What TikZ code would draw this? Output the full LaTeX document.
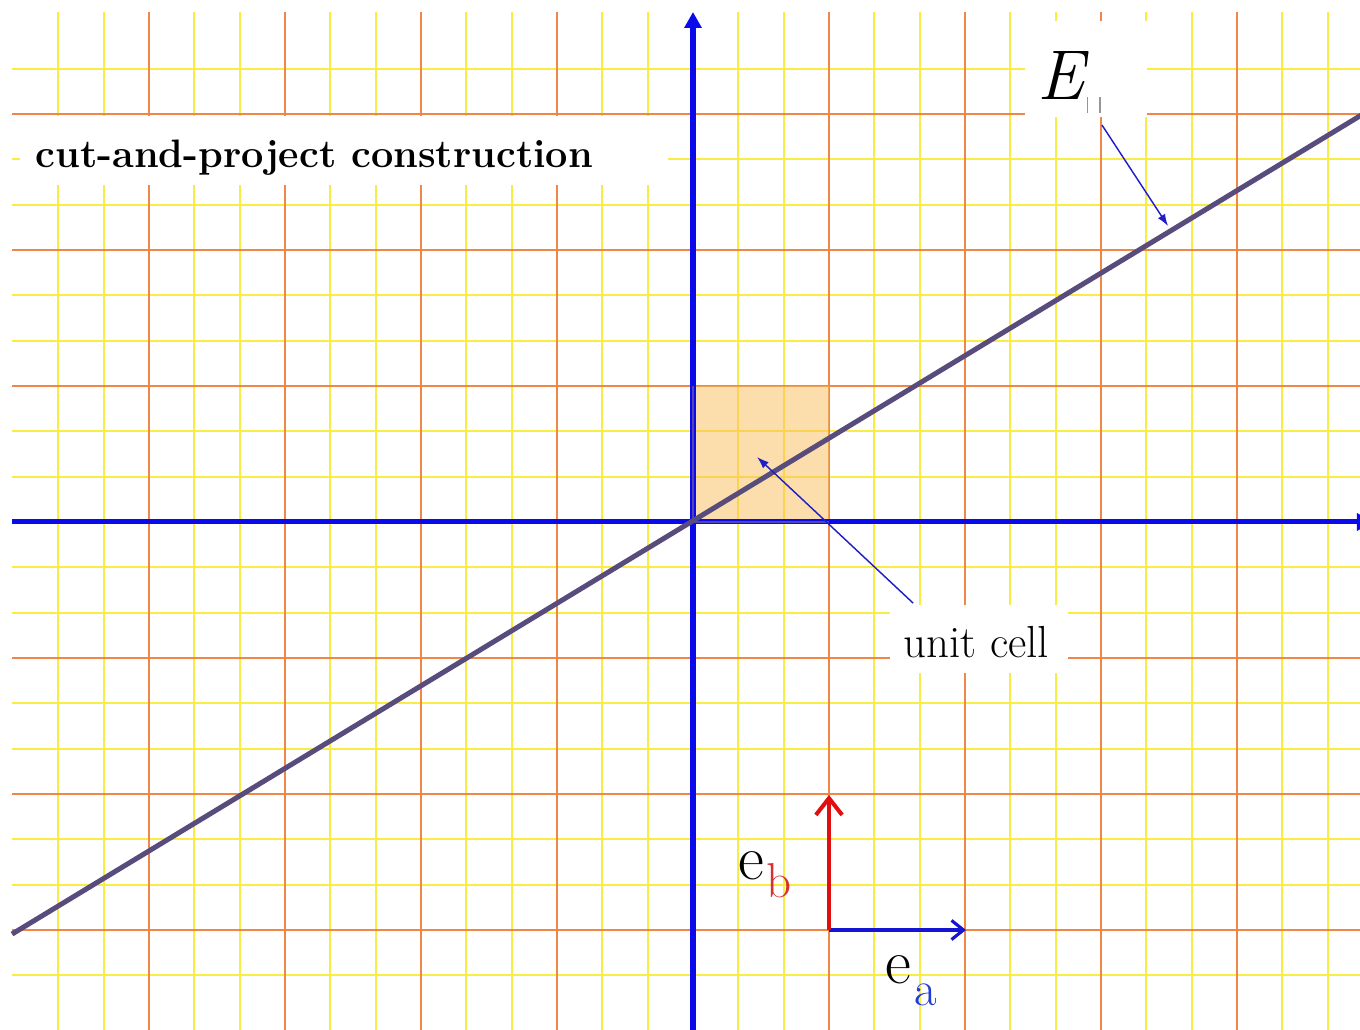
\documentclass[tikz,border=0pt]{standalone}
\usetikzlibrary{arrows.meta}
\definecolor{gridyellow}{RGB}{250,236,70}
\definecolor{gridorange}{RGB}{240,135,70}
\definecolor{axisblue}{RGB}{10,10,235}
\definecolor{lineviolet}{RGB}{88,76,124}
\definecolor{cellfill}{RGB}{250,190,90}
\definecolor{celledge}{RGB}{130,105,150}
\definecolor{pointerblue}{RGB}{30,30,200}
\definecolor{vecred}{RGB}{225,15,15}
\definecolor{vecblue}{RGB}{20,20,210}
\definecolor{subred}{RGB}{215,50,50}
\definecolor{subblue}{RGB}{30,60,210}
\definecolor{subgray}{RGB}{150,150,150}
\begin{document}
\begin{tikzpicture}[x=2cm,y=2cm,
  yline/.style={gridyellow, line width=0.8pt},
  oline/.style={gridorange, line width=0.9pt},
  axisline/.style={axisblue, line width=2.1pt, -{Triangle[length=6.7pt,width=7pt]}},
  eline/.style={lineviolet, line width=2.1pt},
  pointer/.style={pointerblue, line width=0.6pt, -{Latex[length=5pt,width=3.5pt]}},
  labelbg/.style={fill=white},
  txt/.style={anchor=base west, inner sep=0pt, text=black},
  redvec/.style={vecred, line width=1.7pt, -{Straight Barb[length=7pt,width=11pt]}},
  bluevec/.style={vecblue, line width=1.3pt, -{Straight Barb[length=5pt,width=8pt]}}
]
\useasboundingbox (-5.0956,-3.7353) rectangle (4.9044,3.8382);
\clip (-5.0956,-3.7353) rectangle (4.9044,3.8382);
\fill[white] (-5.0956,-3.7353) rectangle (4.9044,3.8382);

% yellow grid
\foreach \k in {-14,-13,-11,-10,-8,-7,-5,-4,-2,-1,1,2,4,5,7,8,10,11,13,14}
  \draw[yline] (\k/3,-3.74) -- (\k/3,3.75);
\foreach \k in {-10,-8,-7,-5,-4,-2,-1,1,2,4,5,7,8,10}
  \draw[yline] (-5.007,\k/3) -- (4.95,\k/3);
% orange grid
\foreach \k in {-4,-3,-2,-1,1,2,3,4}
  \draw[oline] (\k,-3.74) -- (\k,3.75);
\foreach \k in {-3,-2,-1,1,2,3}
  \draw[oline] (-5.007,\k) -- (4.95,\k);

% unit cell
\fill[cellfill, fill opacity=0.5] (0,0) rectangle (1,1);

% axes
\coordinate (xL) at (-5.007,0);
\coordinate (xR) at (5.0,0);
\coordinate (yB) at (0,-3.74);
\coordinate (yT) at (0,3.75);
\draw[axisline] (xL) -- (xR);
\draw[axisline] (yB) -- (yT);

% unit cell edge
\draw[celledge, draw opacity=0.6, line width=1.2pt] (0,1) -- (0,0) -- (1,0);

% E parallel line
\coordinate (eL) at (-5.007,-3.03);
\coordinate (eR) at (5.0,3.044);
\draw[eline] (eL) -- (eR);

% white label backgrounds
\fill[labelbg] (-4.949,2.478) rectangle (-0.184,2.985);
\fill[labelbg] (2.441,2.978) rectangle (3.338,3.684);
\fill[labelbg] (1.449,-1.110) rectangle (2.757,-0.610);

% texts
\node[txt] (title) at (-4.838,2.610) {\fontsize{16.6}{18}\selectfont\bfseries cut-and-project construction};
\node[txt] (elabel) at (2.53,3.103) {\fontsize{29.5}{29}\selectfont\itshape E\upshape\kern1pt\raisebox{-5.4pt}{\color{subgray}\rule{0.5pt}{6.7pt}\kern4.8pt\rule{0.5pt}{6.7pt}}};
\node[txt] (uc) at (1.544,-0.993) {\fontsize{18.8}{18}\selectfont unit cell};
\node[txt] (eb) at (0.331,-2.632) {\fontsize{26.5}{26}\selectfont e\kern1pt\raisebox{-7.5pt}{\fontsize{20.5}{20}\selectfont\color{subred}b}};
\node[txt] (ea) at (1.412,-3.39) {\fontsize{26.5}{26}\selectfont e\kern1.5pt\raisebox{-9.2pt}{\fontsize{20.5}{20}\selectfont\color{subblue}a}};

% pointers
\coordinate (eStart) at (3.007,2.919);
\coordinate (eTip) at (3.493,2.176);
\draw[pointer] (eStart) -- (eTip);
\coordinate (ucStart) at (1.618,-0.596);
\coordinate (ucTip) at (0.471,0.478);
\draw[pointer] (ucStart) -- (ucTip);

% basis vectors
\coordinate (vo) at (1,-3);
\coordinate (va) at (2.007,-3);
\coordinate (vb) at (1,-2.007);
\draw[bluevec] (vo) -- (va);
\draw[redvec] (vo) -- (vb);
\end{tikzpicture}
\end{document}
